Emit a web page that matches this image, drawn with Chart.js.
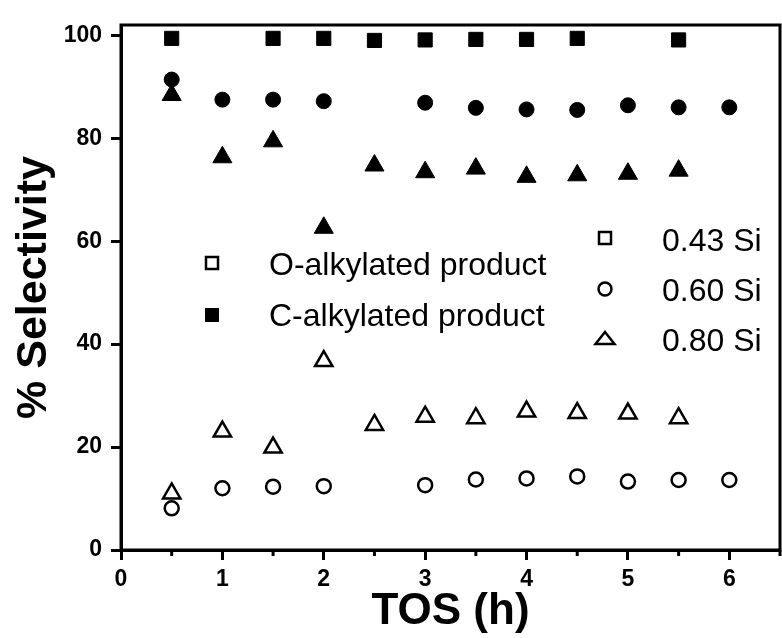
<!DOCTYPE html>
<html>
<head>
<meta charset="utf-8">
<script src="https://cdn.jsdelivr.net/npm/chart.js@4/dist/chart.umd.min.js"></script>
<style>
  html, body { margin: 0; padding: 0; background: #ffffff; }
  #wrap { width: 782px; height: 638px; }
</style>
</head>
<body>
<div id="wrap"><canvas id="c" width="782" height="638"></canvas></div>
<script>
// ---- data ----
const xTicks = [0, 1, 2, 3, 4, 5, 6];
const yTicks = [0, 20, 40, 60, 80, 100];

// 0.43 Si
const tos043C = [0.5, 1.5, 2, 2.5, 3, 3.5, 4, 4.5, 5.5];
const cAlk043 = [99.4, 99.4, 99.4, 99.0, 99.1, 99.2, 99.2, 99.4, 99.1];
const tos043O = [];
const oAlk043 = [];

// 0.60 Si
const tos060 = [0.5, 1, 1.5, 2, 3, 3.5, 4, 4.5, 5, 5.5, 6];
const cAlk060 = [91.4, 87.5, 87.5, 87.2, 86.9, 85.9, 85.6, 85.5, 86.4, 86.0, 86.0];
const oAlk060 = [8.1, 12.0, 12.3, 12.4, 12.6, 13.7, 13.9, 14.3, 13.3, 13.6, 13.6];

// 0.80 Si
const tos080 = [0.5, 1, 1.5, 2, 2.5, 3, 3.5, 4, 4.5, 5, 5.5];
const cAlk080 = [88.4, 76.3, 79.4, 62.6, 74.7, 73.4, 74.1, 72.5, 72.8, 73.1, 73.7];
const oAlk080 = [11.0, 23.0, 19.9, 36.7, 24.3, 25.9, 25.6, 26.9, 26.6, 26.5, 25.6];

const legendProducts = ['O-alkylated product', 'C-alkylated product'];
const legendSamples = ['0.43 Si', '0.60 Si', '0.80 Si'];

const xTitle = 'TOS (h)';
const yTitle = '% Selectivity';

const FONT = '"Liberation Sans", Arial, Helvetica, sans-serif';

function pts(xs, ys) { return xs.map((x, i) => ({ x: x, y: ys[i] })); }

const boxPlugin = {
  id: 'boxPlugin',
  afterDraw(chart) {
    const ctx = chart.ctx;
    const a = chart.chartArea;
    const xs = chart.scales.x;
    ctx.save();
    ctx.strokeStyle = '#000';
    ctx.lineWidth = 3;
    ctx.strokeRect(a.left, a.top, a.right - a.left, a.bottom - a.top);
    // minor x ticks
    xs.ticks.forEach(t => {
      if (Math.abs(t.value - Math.round(t.value)) > 1e-6) {
        const px = xs.getPixelForValue(t.value);
        ctx.beginPath();
        ctx.moveTo(px, a.bottom);
        ctx.lineTo(px, a.bottom + 6);
        ctx.stroke();
      }
    });
    ctx.restore();
  }
};

function drawSquare(ctx, x, y, s, filled) {
  if (filled) { ctx.fillRect(x - s / 2, y - s / 2, s, s); }
  else { ctx.strokeRect(x - s / 2, y - s / 2, s, s); }
}

const legendPlugin = {
  id: 'legendPlugin',
  afterDraw(chart) {
    const ctx = chart.ctx;
    ctx.save();
    ctx.fillStyle = '#000';
    ctx.strokeStyle = '#000';
    ctx.lineWidth = 2.5;
    ctx.font = '32px ' + FONT;
    ctx.textBaseline = 'middle';
    ctx.textAlign = 'left';
    // product legend
    drawSquare(ctx, 212, 263, 12, false);
    ctx.fillText(legendProducts[0], 269, 266);
    drawSquare(ctx, 212, 315, 14, true);
    ctx.fillText(legendProducts[1], 269, 317);
    // sample legend
    drawSquare(ctx, 605, 238, 12, false);
    ctx.fillText(legendSamples[0], 662, 242);
    ctx.beginPath();
    ctx.arc(605, 289, 6.5, 0, Math.PI * 2);
    ctx.stroke();
    ctx.fillText(legendSamples[1], 662, 292);
    ctx.beginPath();
    ctx.moveTo(605, 332);
    ctx.lineTo(614.5, 344);
    ctx.lineTo(595.5, 344);
    ctx.closePath();
    ctx.stroke();
    ctx.fillText(legendSamples[2], 662, 342);
    ctx.restore();
  }
};

const blk = '#000000';

new Chart(document.getElementById('c'), {
  type: 'scatter',
  data: {
    datasets: [
      { label: 'C-alkylated 0.43 Si', data: pts(tos043C, cAlk043), pointStyle: 'rect', pointRadius: 10, backgroundColor: blk, borderColor: blk, borderWidth: 1 },
      { label: 'O-alkylated 0.43 Si', data: pts(tos043O, oAlk043), pointStyle: 'rect', pointRadius: 9, backgroundColor: 'rgba(0,0,0,0)', borderColor: blk, borderWidth: 2.5 },
      { label: 'C-alkylated 0.60 Si', data: pts(tos060, cAlk060), pointStyle: 'circle', pointRadius: 7.5, backgroundColor: blk, borderColor: blk, borderWidth: 1 },
      { label: 'O-alkylated 0.60 Si', data: pts(tos060, oAlk060), pointStyle: 'circle', pointRadius: 7, backgroundColor: 'rgba(0,0,0,0)', borderColor: blk, borderWidth: 2.5 },
      { label: 'C-alkylated 0.80 Si', data: pts(tos080, cAlk080), pointStyle: 'triangle', pointRadius: 11, backgroundColor: blk, borderColor: blk, borderWidth: 1 },
      { label: 'O-alkylated 0.80 Si', data: pts(tos080, oAlk080), pointStyle: 'triangle', pointRadius: 10, backgroundColor: 'rgba(0,0,0,0)', borderColor: blk, borderWidth: 2.5 }
    ]
  },
  options: {
    responsive: false,
    animation: false,
    events: [],
    layout: { autoPadding: false, padding: { left: 0, right: 2, top: 25, bottom: 0 } },
    plugins: { legend: { display: false }, tooltip: { enabled: false } },
    scales: {
      x: {
        type: 'linear', min: 0, max: 6.5,
        afterFit(s) { s.height = 88; s.paddingLeft = 0; s.paddingRight = 0; },
        ticks: {
          stepSize: 0.5, includeBounds: false, color: '#000', padding: 6,
          font: { family: FONT, size: 23, weight: 'bold' },
          maxRotation: 0, autoSkip: false,
          callback(v) { return xTicks.includes(v) ? String(v) : ''; }
        },
        grid: {
          drawOnChartArea: false, tickLength: 10, tickWidth: 3,
          tickColor(c) { return (c.tick && Number.isInteger(c.tick.value)) ? '#000' : 'rgba(0,0,0,0)'; }
        },
        border: { display: true, color: '#000', width: 3 },
        title: { display: true, text: xTitle, color: '#000', font: { family: FONT, size: 44, weight: 'bold', lineHeight: 1 }, padding: { top: 0, bottom: 4 } }
      },
      y: {
        type: 'linear', min: 0, max: 102,
        afterFit(s) { s.width = 121; },
        afterBuildTicks(s) { s.ticks = yTicks.map(v => ({ value: v })); },
        ticks: {
          color: '#000', padding: 9,
          font: { family: FONT, size: 23, weight: 'bold' }
        },
        grid: { drawOnChartArea: false, tickLength: 10, tickWidth: 3, tickColor: '#000' },
        border: { display: true, color: '#000', width: 3 },
        title: { display: true, text: yTitle, color: '#000', font: { family: FONT, size: 43, weight: 'bold', lineHeight: 1 }, padding: { top: 13, bottom: 0 } }
      }
    }
  },
  plugins: [boxPlugin, legendPlugin]
});
</script>
</body>
</html>
